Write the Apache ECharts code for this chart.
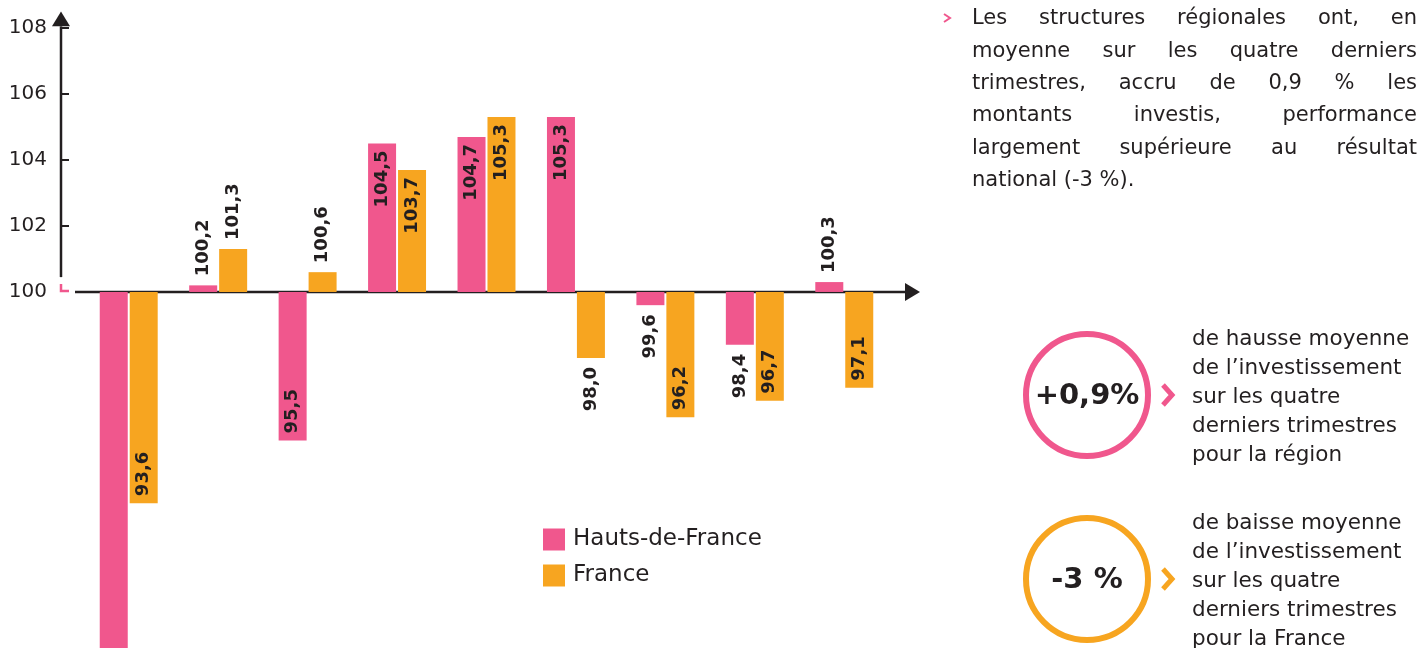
<!DOCTYPE html>
<html><head><meta charset="utf-8">
<script src="https://cdn.jsdelivr.net/npm/echarts@6/dist/echarts.min.js"></script>
<style>html,body{margin:0;padding:0;background:#fff}#c{width:1421px;height:648px}</style>
</head><body><div id="c"></div>
<script>
// ---- data ----
const categories = ['P1','P2','P3','P4','P5','P6','P7','P8','P9'];
const hautsDeFrance = [88.9, 100.2, 95.5, 104.5, 104.7, 105.3, 99.6, 98.4, 100.3];
const france = [93.6, 101.3, 100.6, 103.7, 105.3, 98.0, 96.2, 96.7, 97.1];
const hdfLabelMode = ['none','outside','inside','inside','inside','inside','outside','outside','outside'];
const frLabelMode = ['inside','outside','outside','inside','inside','outside','inside','inside','inside'];
const yTickValues = [100, 102, 104, 106, 108];
const yMin = 89.21, yMax = 108;
const BASE = 100;

const PINK = '#F0578D', ORANGE = '#F7A520', INK = '#231F20';
const FONT = '"DejaVu Sans", "Noto Sans", sans-serif';

const paragraph = [
  'Les structures régionales ont, en',
  'moyenne sur les quatre derniers',
  'trimestres, accru de 0,9 % les',
  'montants investis, performance',
  'largement supérieure au résultat',
  'national (-3 %).'
];
const kpiRegion = { value: '+0,9%', lines: ['de hausse moyenne', 'de l\u2019investissement', 'sur les quatre', 'derniers trimestres', 'pour la région'] };
const kpiFrance = { value: '-3 %', lines: ['de baisse moyenne', 'de l\u2019investissement', 'sur les quatre', 'derniers trimestres', 'pour la France'] };

function fmt(v){ return v.toFixed(1).replace('.', ','); }
function labelFor(v, mode){
  if (mode === 'none') return { show: false };
  const pos = v >= BASE ? (mode === 'inside' ? 'insideTop' : 'top') : (mode === 'inside' ? 'insideBottom' : 'bottom');
  const align = (pos === 'insideTop' || pos === 'bottom') ? 'right' : 'left';
  return { show: true, position: pos, rotate: 90, align: align, verticalAlign: 'middle', distance: mode === 'inside' ? 7 : 9 };
}
function buildData(arr, modes){
  return arr.map((v, i) => ({ value: +(v - BASE).toFixed(2), label: labelFor(v, modes[i]) }));
}

const chart = echarts.init(document.getElementById('c'), null, { renderer: 'canvas' });
const labelCommon = { fontFamily: FONT, fontWeight: 'bold', fontSize: 18, color: INK,
  formatter: p => fmt(p.value + BASE) };

chart.setOption({
  animation: false,
  backgroundColor: '#fff',
  grid: { left: 84, right: 532, top: 28, bottom: 0, containLabel: false, outerBoundsMode: 'none' },
  legend: {
    orient: 'vertical', left: 543, top: 528, padding: 0, itemGap: 13,
    itemWidth: 22, itemHeight: 22, icon: 'rect',
    textStyle: { fontFamily: FONT, fontSize: 23, color: INK, padding: [0, 0, 0, 3] },
    data: ['Hauts-de-France', 'France']
  },
  xAxis: {
    type: 'category', data: categories,
    axisLine: { show: false }, axisTick: { show: false }, axisLabel: { show: false }, splitLine: { show: false }
  },
  yAxis: {
    type: 'value', min: yMin - BASE, max: yMax - BASE, offset: 23,
    axisLine: { show: false },
    axisTick: { show: true, inside: true, length: 8, lineStyle: { color: INK, width: 2 },
      customValues: yTickValues.filter(v => v > BASE).map(v => v - BASE) },
    axisLabel: { fontFamily: FONT, fontSize: 20, color: INK, margin: 14,
      customValues: yTickValues.map(v => v - BASE),
      formatter: v => String(Math.round(v + BASE)) },
    splitLine: { show: false }
  },
  series: [
    { name: 'Hauts-de-France', type: 'bar', barWidth: 28, barGap: '7%', itemStyle: { color: PINK },
      label: labelCommon, data: buildData(hautsDeFrance, hdfLabelMode) },
    { name: 'France', type: 'bar', barWidth: 28, barGap: '7%', itemStyle: { color: ORANGE },
      label: labelCommon, data: buildData(france, frLabelMode) }
  ]
});

// ---- decorations (axes with arrows, side texts) ----
const yPix = v => chart.convertToPixel({ yAxisIndex: 0 }, v - BASE);
const g = [];
const y100 = yPix(100);
const yAxisX = 61;
g.push({ type: 'line', silent: true, shape: { x1: yAxisX, y1: yPix(100.45), x2: yAxisX, y2: yPix(108.05) }, style: { stroke: INK, lineWidth: 2.5 } });
g.push({ type: 'polygon', silent: true, shape: { points: [[yAxisX - 9, yPix(108.05)], [yAxisX + 9, yPix(108.05)], [yAxisX, yPix(108.5)]] }, style: { fill: INK } });
g.push({ type: 'polyline', silent: true, shape: { points: [[61, y100 - 8], [61, y100 - 1], [69, y100 - 1]] }, style: { stroke: PINK, lineWidth: 2.5, fill: null } });
g.push({ type: 'line', silent: true, shape: { x1: 75, y1: y100, x2: 906, y2: y100 }, style: { stroke: INK, lineWidth: 2.5 } });
g.push({ type: 'polygon', silent: true, shape: { points: [[905, y100 - 9], [905, y100 + 9], [920, y100]] }, style: { fill: INK } });

// justified paragraph
const ctx = document.createElement('canvas').getContext('2d');
const pFont = '21px ' + FONT;
ctx.font = pFont;
const pLeft = 972, pRight = 1417, pTop = 19, pLH = 32.3;
paragraph.forEach((line, li) => {
  const y = pTop + li * pLH;
  const words = line.split(' ');
  if (li === paragraph.length - 1 || words.length < 2) {
    g.push({ type: 'text', silent: true, style: { text: line, x: pLeft, y: y, font: pFont, fill: INK, verticalAlign: 'middle', align: 'left' } });
    return;
  }
  const widths = words.map(w => ctx.measureText(w).width);
  const total = widths.reduce((a, b) => a + b, 0);
  const gap = (pRight - pLeft - total) / (words.length - 1);
  let x = pLeft;
  words.forEach((w, i) => {
    g.push({ type: 'text', silent: true, style: { text: w, x: x, y: y, font: pFont, fill: INK, verticalAlign: 'middle', align: 'left' } });
    x += widths[i] + gap;
  });
});
g.push({ type: 'polyline', silent: true, shape: { points: [[944, 14], [950, 18], [944, 22]] }, style: { stroke: PINK, lineWidth: 2, fill: null } });

function kpi(k, cy, color){
  const cx = 1087;
  g.push({ type: 'circle', silent: true, shape: { cx: cx, cy: cy, r: 61 }, style: { stroke: color, lineWidth: 6, fill: '#fff' } });
  g.push({ type: 'text', silent: true, style: { text: k.value, x: cx, y: cy + 1, font: 'bold 29px ' + FONT, fill: INK, align: 'center', verticalAlign: 'middle' } });
  g.push({ type: 'polyline', silent: true, shape: { points: [[1163, cy - 10], [1172, cy], [1163, cy + 10]] }, style: { stroke: color, lineWidth: 5, fill: null } });
  k.lines.forEach((t, i) => {
    g.push({ type: 'text', silent: true, style: { text: t, x: 1192, y: cy - 56 + i * 29, font: '21.5px ' + FONT, fill: INK, align: 'left', verticalAlign: 'middle' } });
  });
}
kpi(kpiRegion, 395, PINK);
kpi(kpiFrance, 579, ORANGE);

chart.setOption({ graphic: g });
</script></body></html>
